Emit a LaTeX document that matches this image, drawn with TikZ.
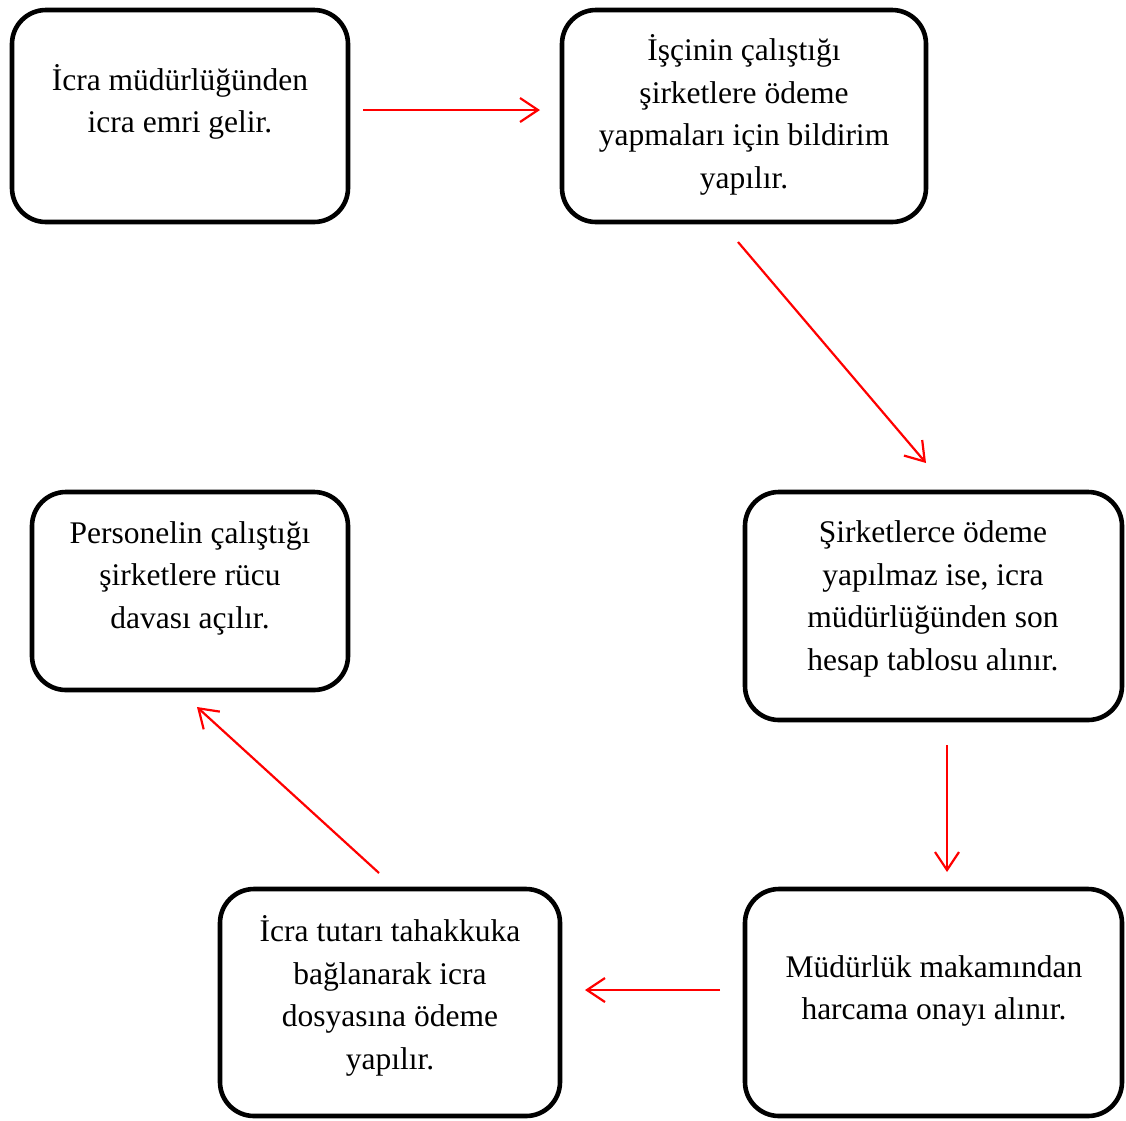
\documentclass[tikz,border=0pt]{standalone}
\usepackage{fontspec}
\setmainfont{Liberation Serif}
\usetikzlibrary{arrows.meta}
\begin{document}
\begin{tikzpicture}[x=1pt,y=-1pt,
  box/.style={draw=black, line width=4.6pt, rounded corners=34pt, rectangle, inner sep=0pt},
  label/.style={align=center, inner sep=0pt, font=\fontsize{31.5}{42.5}\selectfont},
  flow/.style={draw=red, line width=2.2pt, -{Straight Barb[length=18pt,width=24pt,line width=2.2pt]}}]
  \useasboundingbox (0,0) rectangle (1126,1120);

  % boxes
  \node[box, minimum width=336pt, minimum height=212pt] (b1) at (180,116) {};
  \node[box, minimum width=364pt, minimum height=212pt] (b2) at (744,116) {};
  \node[box, minimum width=377pt, minimum height=228pt] (b3) at (933.5,606) {};
  \node[box, minimum width=316pt, minimum height=198pt] (b4) at (190,591) {};
  \node[box, minimum width=340pt, minimum height=227pt] (b5) at (390,1002.5) {};
  \node[box, minimum width=377pt, minimum height=227pt] (b6) at (933.5,1002.5) {};

  % texts
  \node[label] (t1) at (180,102) {İcra müdürlüğünden\\icra emri gelir.};
  \node[label] (t2) at (744,115) {İşçinin çalıştığı\\şirketlere ödeme\\yapmaları için bildirim\\yapılır.};
  \node[label] (t3) at (933,599) {Şirketlerce ödeme\\yapılmaz ise, icra\\müdürlüğünden son\\hesap tablosu alınır.};
  \node[label] (t4) at (190,578) {Personelin çalıştığı\\şirketlere rücu\\davası açılır.};
  \node[label] (t5) at (390,996) {İcra tutarı tahakkuka\\bağlanarak icra\\dosyasına ödeme\\yapılır.};
  \node[label] (t6) at (934,991) {Müdürlük makamından\\harcama onayı alınır.};

  % arrow ends
  \coordinate (a1s) at (363,110);  \coordinate (a1e) at (540,110);
  \coordinate (a2s) at (738,242);  \coordinate (a2e) at (926,463);
  \coordinate (a3s) at (947,745);  \coordinate (a3e) at (947,872);
  \coordinate (a4s) at (720,990);  \coordinate (a4e) at (585,990);
  \coordinate (a5s) at (379,873);  \coordinate (a5e) at (197,707);

  \draw[flow] (a1s) -- (a1e);
  \draw[flow] (a2s) -- (a2e);
  \draw[flow] (a3s) -- (a3e);
  \draw[flow] (a4s) -- (a4e);
  \draw[flow] (a5s) -- (a5e);
\end{tikzpicture}
\end{document}
